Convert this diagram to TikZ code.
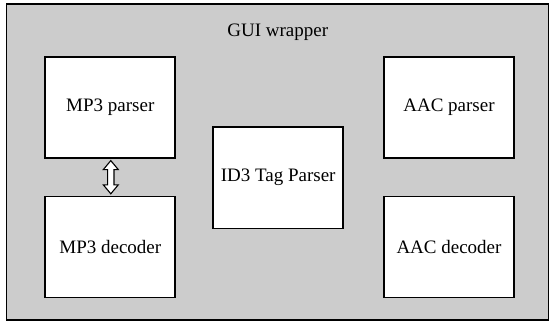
\documentclass[tikz,border=0pt]{standalone}
\usepackage{fontspec}
\setmainfont{Liberation Serif}
\usetikzlibrary{calc}
\definecolor{wrapgray}{HTML}{CCCCCC}
\begin{document}
\begin{tikzpicture}[x=1pt,y=-1pt,
  txt/.style={font=\fontsize{19}{22}\selectfont},
  block/.style={draw=black,line width=1.8pt,fill=white,inner sep=0pt,txt,minimum width=130pt,minimum height=101pt},
  hollowarrow/.style={draw=black,line width=1.1pt,fill=white,line join=miter}]
\useasboundingbox (0,0) rectangle (554,322);
\node[draw=black,line width=1.4pt,fill=wrapgray,minimum width=542pt,minimum height=316pt,inner sep=0pt] (gui) at (277.2,161.8) {};
\node[txt] (guil) at (277.7,32.5) {GUI wrapper};
\node[block] (mp3p) at (110.3,107.7) {MP3 parser};
\node[block] (mp3d) at (110.3,247) {MP3 decoder};
\node[block,minimum height=101.5pt] (id3) at (278.2,177.7) {ID3 Tag Parser};
\node[block] (aacp) at (449,107.7) {AAC parser};
\node[block] (aacd) at (449,247) {AAC decoder};
\coordinate (atop) at ($(mp3p.south)+(0.5,1.5)$);
\coordinate (abot) at ($(mp3d.north)+(0.5,-1.8)$);
\draw[hollowarrow] (atop) -- ++(7.5,9) -- ++(-4.3,0) -- ($(abot)+(3.2,-9)$) -- ++(4.3,0)
  -- (abot) -- ++(-7.5,-9) -- ++(4.3,0) -- ($(atop)+(-3.2,9)$) -- ++(-4.3,0) -- cycle;
\end{tikzpicture}
\end{document}
